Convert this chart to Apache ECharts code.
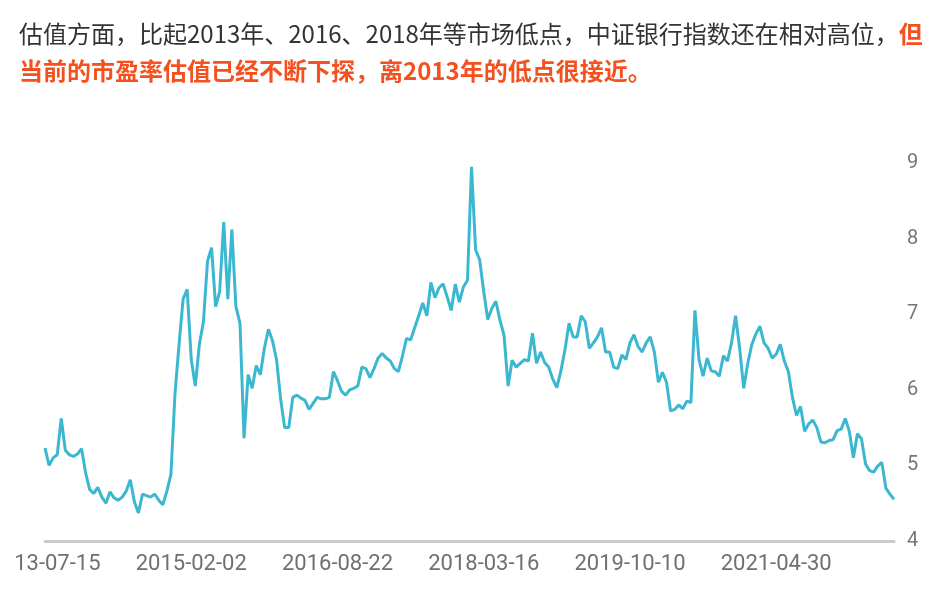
<!DOCTYPE html>
<html><head><meta charset="utf-8">
<script src="https://cdn.jsdelivr.net/npm/echarts@6/dist/echarts.min.js"></script>
<style>html,body{margin:0;padding:0;background:#fff}#c{width:941px;height:595px}</style>
</head><body><div id="c"></div>
<script>
const titleNormal = '估值方面，比起2013年、2016、2018年等市场低点，中证银行指数还在相对高位，';
const titleHighlight1 = '但';
const titleHighlight2 = '当前的市盈率估值已经不断下探，离2013年的低点很接近。';
const tickLabels = ['2013-07-15', '2015-02-02', '2016-08-22', '2018-03-16', '2019-10-10', '2021-04-30'];
const labelStep = 36;
const peValues = [
  5.23, 5.0, 5.1, 5.14, 5.62, 5.2, 5.14, 5.12, 5.15, 5.22,
  4.9, 4.68, 4.63, 4.71, 4.58, 4.5, 4.65, 4.57, 4.54, 4.58,
  4.66, 4.81, 4.52, 4.37, 4.62, 4.6, 4.58, 4.62, 4.54, 4.48,
  4.66, 4.88, 5.95, 6.6, 7.2, 7.33, 6.4, 6.05, 6.6, 6.9,
  7.7, 7.88, 7.1, 7.3, 8.22, 7.2, 8.12, 7.1, 6.88, 5.36,
  6.2, 6.02, 6.32, 6.2, 6.55, 6.8, 6.65, 6.4, 5.88, 5.5,
  5.5, 5.9, 5.93, 5.89, 5.86, 5.74, 5.82, 5.9, 5.88, 5.88,
  5.9, 6.24, 6.12, 5.98, 5.93, 6.0, 6.02, 6.05, 6.3, 6.28,
  6.16, 6.28, 6.42, 6.48, 6.42, 6.38, 6.28, 6.24, 6.45, 6.68,
  6.66, 6.82, 6.98, 7.15, 6.98, 7.42, 7.22, 7.35, 7.4, 7.23,
  7.05, 7.4, 7.16, 7.36, 7.45, 8.95, 7.85, 7.72, 7.3, 6.93,
  7.08, 7.17, 6.92, 6.72, 6.05, 6.39, 6.3, 6.35, 6.4, 6.38,
  6.75, 6.35, 6.5, 6.36, 6.3, 6.14, 6.03, 6.25, 6.53, 6.88,
  6.7, 6.7, 6.98, 6.9, 6.55, 6.62, 6.7, 6.82, 6.5, 6.5,
  6.3, 6.28, 6.46, 6.4, 6.62, 6.73, 6.57, 6.5, 6.62, 6.7,
  6.5, 6.1, 6.23, 6.1, 5.72, 5.74, 5.8, 5.75, 5.85, 5.83,
  7.05, 6.4, 6.18, 6.42, 6.25, 6.24, 6.18, 6.45, 6.38, 6.62,
  6.98, 6.55, 6.02, 6.35, 6.6, 6.74, 6.84, 6.62, 6.55, 6.42,
  6.47, 6.6, 6.38, 6.24, 5.9, 5.66, 5.78, 5.45, 5.55, 5.6,
  5.5, 5.31, 5.3, 5.33, 5.34, 5.46, 5.48, 5.62, 5.45, 5.1,
  5.42, 5.35, 5.02, 4.93, 4.91, 4.99, 5.04, 4.7, 4.62, 4.55
];
const yMin = 4, yMax = 9, yInterval = 1;

const categories = peValues.map((_, i) => String(i));
const cjkFont = '"Noto Sans CJK SC", "Noto Sans", sans-serif';

const chart = echarts.init(document.getElementById('c'), null, {renderer: 'canvas'});
chart.setOption({
  animation: false,
  backgroundColor: '#fff',
  title: {
    left: 14,
    top: 10,
    text: '{n|' + titleNormal + '}{r|' + titleHighlight1 + '}\n{r|' + titleHighlight2 + '}',
    textStyle: {
      fontWeight: 'normal',
      fontFamily: cjkFont,
      rich: {
        n: {fontSize: 24, color: '#333', fontWeight: 'normal', fontFamily: cjkFont, lineHeight: 37},
        r: {fontSize: 24, color: '#f4511e', fontWeight: 'bold', fontFamily: cjkFont, lineHeight: 37}
      }
    }
  },
  grid: {left: 45, right: 47, top: 163, bottom: 54, containLabel: false, outerBoundsMode: 'none'},
  graphic: [{
    type: 'rect', left: 0, top: 546, z: 100,
    shape: {width: 14, height: 40},
    style: {fill: '#fff'}
  }],
  xAxis: {
    type: 'category',
    data: categories,
    boundaryGap: false,
    axisLine: {show: true, lineStyle: {color: '#cbcbcb', width: 3}},
    axisTick: {show: false},
    splitLine: {show: false},
    axisLabel: {
      interval: labelStep - 1,
      margin: 12,
      color: '#707070',
      fontSize: 22,
      fontFamily: 'Roboto',
      formatter: (v, i) => (i % labelStep === 0 && tickLabels[i / labelStep]) ? tickLabels[i / labelStep] : ''
    }
  },
  yAxis: {
    type: 'value',
    position: 'right',
    min: yMin, max: yMax, interval: yInterval,
    axisLine: {show: false},
    axisTick: {show: false},
    splitLine: {show: false},
    axisLabel: {margin: 13, color: '#767676', fontSize: 20, fontFamily: 'Roboto'}
  },
  series: [{
    type: 'line',
    data: peValues,
    symbol: 'none',
    lineStyle: {color: '#3bb8d0', width: 3},
    itemStyle: {color: '#3bb8d0'}
  }]
});
</script></body></html>
